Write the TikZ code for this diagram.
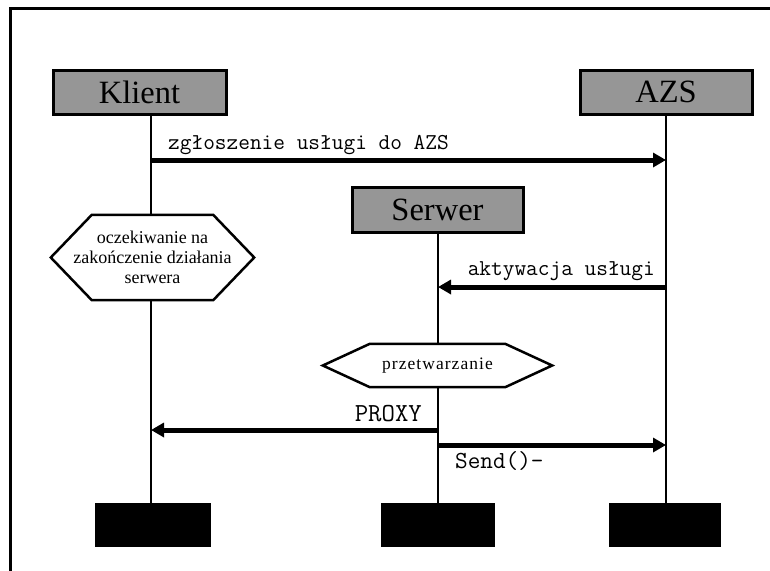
\documentclass[tikz,border=0pt]{standalone}
\usepackage{fontspec}
\setmainfont{Liberation Serif}
\usetikzlibrary{arrows.meta}
\definecolor{boxgray}{RGB}{150,150,150}
\begin{document}
\begin{tikzpicture}[x=1pt,y=-1pt,
  actor/.style={draw=black, line width=3pt, fill=boxgray, inner sep=0pt,
    font=\fontsize{32.5}{36}\selectfont},
  endbox/.style={fill=black, minimum width=116pt, minimum height=44pt, inner sep=0pt},
  life/.style={line width=2.5pt},
  msg/.style={line width=5pt, -{Triangle[length=13pt,width=14pt]}},
  hexa/.style={draw=black, line width=2.5pt, fill=white},
  hextext/.style={inner sep=0pt, align=center, font=\fontsize{18}{20}\selectfont},
  mono/.style={inner sep=0pt, font=\ttfamily\fontsize{22.7}{25}\selectfont},
  monobig/.style={inner sep=0pt, font=\ttfamily\fontsize{24.5}{26}\selectfont},
  monohuge/.style={inner sep=0pt, font=\ttfamily\fontsize{26}{28}\selectfont},
  frame/.style={line width=3pt}]
\useasboundingbox (0,0) rectangle (770,570);
% frame
\coordinate (fbl) at (10,572);
\coordinate (ftl) at (10,8);
\coordinate (ftr) at (772,8);
\draw[frame] (fbl) -- (ftl) -- (ftr);
% actors
\node[actor, minimum width=173pt, minimum height=44pt] (klient) at (139.5,92.5) {Klient};
\node[actor, minimum width=172pt, minimum height=44pt] (azs) at (666,92) {AZS};
\node[actor, minimum width=171pt, minimum height=45pt] (serwer) at (437.5,209.5) {Serwer};
% end boxes
\node[endbox] (kend) at (153,525) {};
\node[endbox, minimum width=114pt] (send) at (438,525) {};
\node[endbox, minimum width=112pt] (aend) at (665,525) {};
% lifeline x positions
\coordinate (kx) at (151,0);
\coordinate (sx) at (438,0);
\coordinate (ax) at (666,0);
\draw[life] (klient.south -| kx) -- (kend.north -| kx);
\draw[life] (serwer.south -| sx) -- (send.north -| sx);
\draw[life] (azs.south -| ax) -- (aend.north -| ax);
% hexagons
\node[inner sep=0pt, minimum width=203pt, minimum height=85pt] (wait) at (152.5,257.5) {};
\draw[hexa] (wait.west) -- ([xshift=41pt]wait.north west) -- ([xshift=-41pt]wait.north east) -- (wait.east) -- ([xshift=-41pt]wait.south east) -- ([xshift=41pt]wait.south west) -- cycle;
\node[hextext] (waitlbl) at (wait) {oczekiwanie na\\zakończenie działania\\serwera};
\node[inner sep=0pt, minimum width=229pt, minimum height=43pt] (proc) at (437.5,365.5) {};
\draw[hexa] (proc.west) -- ([xshift=47pt]proc.north west) -- ([xshift=-47pt]proc.north east) -- (proc.east) -- ([xshift=-47pt]proc.south east) -- ([xshift=47pt]proc.south west) -- cycle;
\node[hextext, font=\fontsize{17.5}{19.5}\selectfont\addfontfeature{LetterSpace=6}] (proclbl) at (proc) {przetwarzanie};
% messages
\coordinate (y1) at (0,160);
\coordinate (y2) at (0,287);
\coordinate (y3) at (0,430);
\coordinate (y4) at (0,445);
\draw[msg] (kx |- y1) -- (ax |- y1);
\draw[msg] (ax |- y2) -- (sx |- y2);
\draw[msg] (sx |- y3) -- (kx |- y3);
\draw[msg] (sx |- y4) -- (ax |- y4);
% labels
\node[mono, anchor=base west] (l1) at (168,149) {zgłoszenie usługi do AZS};
\node[mono, anchor=base east] (l2) at (655,275) {aktywacja usługi};
\node[monohuge, anchor=base east] (l3) at (422,421) {PROXY};
\node[monobig, anchor=base west] (l4) at (455,468) {Send()-};
\end{tikzpicture}
\end{document}
